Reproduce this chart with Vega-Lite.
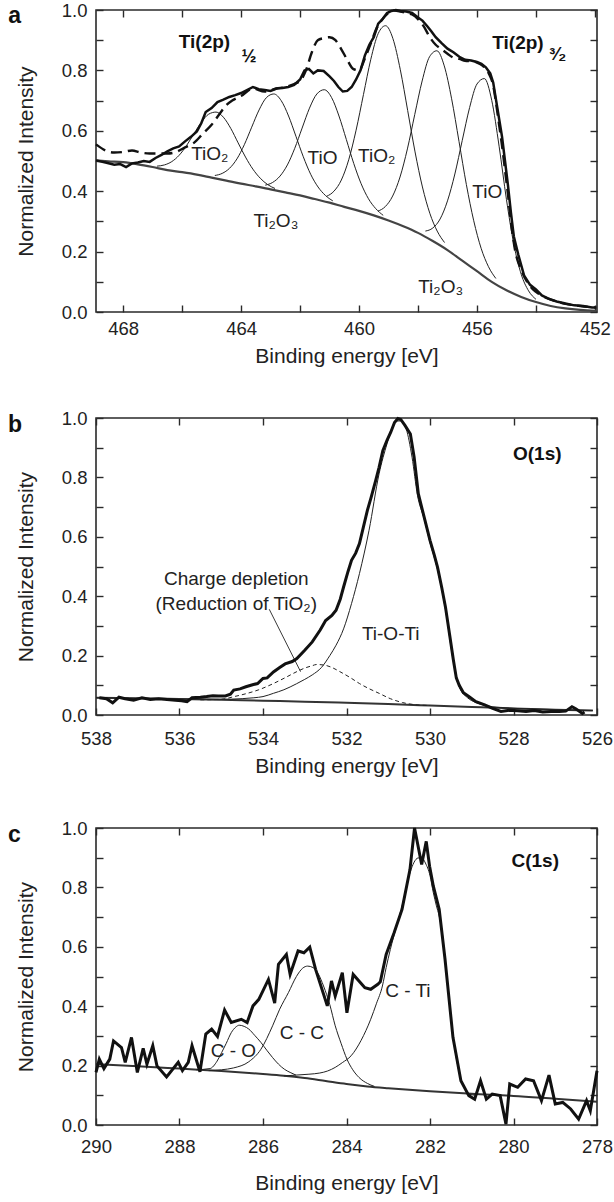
{
"$schema":"https://vega.github.io/schema/vega-lite/v6.json",
"padding":{"left":7,"right":0,"top":0,"bottom":0},
"spacing":40,
"config":{
"view":{"stroke":"#2a2a2a","strokeWidth":1.6},
"font":"Liberation Sans",
"axis":{"grid":false,"domain":false,"labelFont":"Liberation Sans","titleFont":"Liberation Sans","labelFontSize":18.5,"titleFontSize":21,"titleFontWeight":"normal","labelColor":"#222","titleColor":"#222","tickColor":"#2a2a2a","tickWidth":1.4,"tickSize":-7,"labelFlush":false,"labelOverlap":false},
"text":{"font":"Liberation Sans","fontSize":19,"color":"#222"}
},
"vconcat":[
{
"width":501,"height":302,
"data":{"values":[
{"s":"e","E":468.92,"I":0.502},{"s":"e","E":468.6,"I":0.495},{"s":"e","E":468.3,"I":0.488},{"s":"e","E":468.1,"I":0.49},{"s":"e","E":467.9,"I":0.48},{"s":"e","E":467.7,"I":0.492},{"s":"e","E":467.5,"I":0.495},{"s":"e","E":467.3,"I":0.5},{"s":"e","E":467.1,"I":0.497},{"s":"e","E":466.9,"I":0.51},{"s":"e","E":466.7,"I":0.52},{"s":"e","E":466.5,"I":0.532},{"s":"e","E":466.3,"I":0.542},{"s":"e","E":466.1,"I":0.548},{"s":"e","E":465.9,"I":0.565},{"s":"e","E":465.7,"I":0.58},{"s":"e","E":465.5,"I":0.598},{"s":"e","E":465.35,"I":0.625},{"s":"e","E":465.2,"I":0.662},{"s":"e","E":465.0,"I":0.675},{"s":"e","E":464.8,"I":0.695},{"s":"e","E":464.6,"I":0.703},{"s":"e","E":464.4,"I":0.712},{"s":"e","E":464.2,"I":0.718},{"s":"e","E":464.0,"I":0.725},{"s":"e","E":463.8,"I":0.735},{"s":"e","E":463.6,"I":0.745},{"s":"e","E":463.4,"I":0.738},{"s":"e","E":463.2,"I":0.735},{"s":"e","E":463.0,"I":0.732},{"s":"e","E":462.8,"I":0.74},{"s":"e","E":462.6,"I":0.742},{"s":"e","E":462.4,"I":0.745},{"s":"e","E":462.2,"I":0.752},{"s":"e","E":462.0,"I":0.77},{"s":"e","E":461.85,"I":0.8},{"s":"e","E":461.7,"I":0.805},{"s":"e","E":461.55,"I":0.79},{"s":"e","E":461.4,"I":0.8},{"s":"e","E":461.2,"I":0.798},{"s":"e","E":461.0,"I":0.78},{"s":"e","E":460.85,"I":0.765},{"s":"e","E":460.7,"I":0.745},{"s":"e","E":460.55,"I":0.73},{"s":"e","E":460.4,"I":0.732},{"s":"e","E":460.25,"I":0.745},{"s":"e","E":460.1,"I":0.77},{"s":"e","E":459.95,"I":0.8},{"s":"e","E":459.8,"I":0.85},{"s":"e","E":459.65,"I":0.885},{"s":"e","E":459.5,"I":0.91},{"s":"e","E":459.35,"I":0.955},{"s":"e","E":459.2,"I":0.97},{"s":"e","E":459.05,"I":0.99},{"s":"e","E":458.9,"I":0.997},{"s":"e","E":458.75,"I":1.0},{"s":"e","E":458.6,"I":0.997},{"s":"e","E":458.4,"I":0.995},{"s":"e","E":458.2,"I":0.99},{"s":"e","E":458.0,"I":0.975},{"s":"e","E":457.85,"I":0.965},{"s":"e","E":457.7,"I":0.948},{"s":"e","E":457.55,"I":0.93},{"s":"e","E":457.4,"I":0.91},{"s":"e","E":457.2,"I":0.89},{"s":"e","E":457.0,"I":0.872},{"s":"e","E":456.8,"I":0.86},{"s":"e","E":456.6,"I":0.845},{"s":"e","E":456.4,"I":0.835},{"s":"e","E":456.2,"I":0.833},{"s":"e","E":456.0,"I":0.828},{"s":"e","E":455.85,"I":0.822},{"s":"e","E":455.7,"I":0.81},{"s":"e","E":455.55,"I":0.79},{"s":"e","E":455.45,"I":0.76},{"s":"e","E":455.35,"I":0.7},{"s":"e","E":455.25,"I":0.64},{"s":"e","E":455.15,"I":0.58},{"s":"e","E":455.05,"I":0.5},{"s":"e","E":454.95,"I":0.42},{"s":"e","E":454.85,"I":0.33},{"s":"e","E":454.75,"I":0.25},{"s":"e","E":454.6,"I":0.19},{"s":"e","E":454.4,"I":0.12},{"s":"e","E":454.2,"I":0.09},{"s":"e","E":454.0,"I":0.075},{"s":"e","E":453.8,"I":0.055},{"s":"e","E":453.6,"I":0.045},{"s":"e","E":453.3,"I":0.035},{"s":"e","E":453.0,"I":0.028},{"s":"e","E":452.7,"I":0.022},{"s":"e","E":452.4,"I":0.02},{"s":"e","E":452.1,"I":0.015},{"s":"e","E":451.95,"I":0.015},
{"s":"d","E":468.92,"I":0.555},{"s":"d","E":468.6,"I":0.535},{"s":"d","E":468.3,"I":0.528},{"s":"d","E":468.0,"I":0.53},{"s":"d","E":467.7,"I":0.535},{"s":"d","E":467.4,"I":0.528},{"s":"d","E":467.1,"I":0.525},{"s":"d","E":466.8,"I":0.525},{"s":"d","E":466.5,"I":0.525},{"s":"d","E":466.2,"I":0.53},{"s":"d","E":465.9,"I":0.545},{"s":"d","E":465.6,"I":0.56},{"s":"d","E":465.3,"I":0.59},{"s":"d","E":465.0,"I":0.62},{"s":"d","E":464.7,"I":0.66},{"s":"d","E":464.5,"I":0.685},{"s":"d","E":464.3,"I":0.7},{"s":"d","E":464.0,"I":0.715},{"s":"d","E":463.6,"I":0.74},{"s":"d","E":463.2,"I":0.73},{"s":"d","E":462.8,"I":0.74},{"s":"d","E":462.5,"I":0.745},{"s":"d","E":462.2,"I":0.755},{"s":"d","E":462.0,"I":0.765},{"s":"d","E":461.8,"I":0.8},{"s":"d","E":461.6,"I":0.86},{"s":"d","E":461.4,"I":0.9},{"s":"d","E":461.2,"I":0.907},{"s":"d","E":461.0,"I":0.91},{"s":"d","E":460.8,"I":0.9},{"s":"d","E":460.6,"I":0.87},{"s":"d","E":460.4,"I":0.835},{"s":"d","E":460.2,"I":0.805},{"s":"d","E":460.0,"I":0.8},{"s":"d","E":459.8,"I":0.84},{"s":"d","E":459.6,"I":0.89},{"s":"d","E":459.4,"I":0.94},{"s":"d","E":459.2,"I":0.97},{"s":"d","E":459.0,"I":0.99},{"s":"d","E":458.8,"I":0.998},{"s":"d","E":458.6,"I":0.995},{"s":"d","E":458.4,"I":0.99},{"s":"d","E":458.2,"I":0.985},{"s":"d","E":458.0,"I":0.97},{"s":"d","E":457.8,"I":0.945},{"s":"d","E":457.6,"I":0.91},{"s":"d","E":457.4,"I":0.885},{"s":"d","E":457.2,"I":0.87},{"s":"d","E":457.0,"I":0.855},{"s":"d","E":456.8,"I":0.842},{"s":"d","E":456.6,"I":0.838},{"s":"d","E":456.4,"I":0.832},{"s":"d","E":456.2,"I":0.83},{"s":"d","E":456.0,"I":0.826},{"s":"d","E":455.8,"I":0.815},{"s":"d","E":455.6,"I":0.79},{"s":"d","E":455.45,"I":0.75},{"s":"d","E":455.35,"I":0.69},{"s":"d","E":455.25,"I":0.62},{"s":"d","E":455.15,"I":0.55},{"s":"d","E":455.05,"I":0.47},{"s":"d","E":454.95,"I":0.39},{"s":"d","E":454.85,"I":0.3},{"s":"d","E":454.7,"I":0.2},{"s":"d","E":454.5,"I":0.14},{"s":"d","E":454.3,"I":0.1},{"s":"d","E":454.1,"I":0.075},{"s":"d","E":453.9,"I":0.06},{"s":"d","E":453.6,"I":0.045},{"s":"d","E":453.3,"I":0.035},{"s":"d","E":453.0,"I":0.027},{"s":"d","E":452.5,"I":0.02},{"s":"d","E":452.0,"I":0.015},
{"s":"b","E":468.92,"I":0.502},{"s":"b","E":468.5,"I":0.499},{"s":"b","E":468.0,"I":0.496},{"s":"b","E":467.5,"I":0.489},{"s":"b","E":467.0,"I":0.48},{"s":"b","E":466.5,"I":0.47},{"s":"b","E":466.0,"I":0.463},{"s":"b","E":465.5,"I":0.455},{"s":"b","E":465.0,"I":0.445},{"s":"b","E":464.5,"I":0.435},{"s":"b","E":464.0,"I":0.425},{"s":"b","E":463.5,"I":0.416},{"s":"b","E":463.0,"I":0.406},{"s":"b","E":462.5,"I":0.396},{"s":"b","E":462.0,"I":0.386},{"s":"b","E":461.5,"I":0.374},{"s":"b","E":461.0,"I":0.362},{"s":"b","E":460.5,"I":0.348},{"s":"b","E":460.0,"I":0.335},{"s":"b","E":459.5,"I":0.32},{"s":"b","E":459.0,"I":0.303},{"s":"b","E":458.5,"I":0.284},{"s":"b","E":458.0,"I":0.262},{"s":"b","E":457.5,"I":0.235},{"s":"b","E":457.0,"I":0.205},{"s":"b","E":456.5,"I":0.17},{"s":"b","E":456.0,"I":0.135},{"s":"b","E":455.5,"I":0.1},{"s":"b","E":455.0,"I":0.072},{"s":"b","E":454.5,"I":0.05},{"s":"b","E":454.0,"I":0.033},{"s":"b","E":453.5,"I":0.02},{"s":"b","E":453.0,"I":0.012},{"s":"b","E":452.5,"I":0.007},{"s":"b","E":451.95,"I":0.004},
{"s":"p1","E":466.85,"I":0.483},{"s":"p1","E":466.6,"I":0.487},{"s":"p1","E":466.35,"I":0.498},{"s":"p1","E":466.1,"I":0.519},{"s":"p1","E":465.85,"I":0.551},{"s":"p1","E":465.6,"I":0.59},{"s":"p1","E":465.35,"I":0.628},{"s":"p1","E":465.1,"I":0.655},{"s":"p1","E":464.85,"I":0.662},{"s":"p1","E":464.6,"I":0.645},{"s":"p1","E":464.35,"I":0.608},{"s":"p1","E":464.1,"I":0.56},{"s":"p1","E":463.85,"I":0.513},{"s":"p1","E":463.6,"I":0.473},{"s":"p1","E":463.35,"I":0.443},{"s":"p1","E":463.1,"I":0.422},{"s":"p1","E":462.85,"I":0.409},
{"s":"p2","E":464.89,"I":0.452},{"s":"p2","E":464.64,"I":0.459},{"s":"p2","E":464.39,"I":0.476},{"s":"p2","E":464.14,"I":0.507},{"s":"p2","E":463.89,"I":0.554},{"s":"p2","E":463.64,"I":0.612},{"s":"p2","E":463.39,"I":0.669},{"s":"p2","E":463.14,"I":0.71},{"s":"p2","E":462.89,"I":0.722},{"s":"p2","E":462.64,"I":0.7},{"s":"p2","E":462.39,"I":0.649},{"s":"p2","E":462.14,"I":0.582},{"s":"p2","E":461.89,"I":0.514},{"s":"p2","E":461.64,"I":0.456},{"s":"p2","E":461.39,"I":0.414},{"s":"p2","E":461.14,"I":0.386},{"s":"p2","E":460.89,"I":0.368},
{"s":"p3","E":463.18,"I":0.42},{"s":"p3","E":462.93,"I":0.429},{"s":"p3","E":462.68,"I":0.45},{"s":"p3","E":462.43,"I":0.487},{"s":"p3","E":462.18,"I":0.542},{"s":"p3","E":461.93,"I":0.609},{"s":"p3","E":461.68,"I":0.675},{"s":"p3","E":461.43,"I":0.722},{"s":"p3","E":461.18,"I":0.736},{"s":"p3","E":460.93,"I":0.71},{"s":"p3","E":460.68,"I":0.649},{"s":"p3","E":460.43,"I":0.571},{"s":"p3","E":460.18,"I":0.492},{"s":"p3","E":459.93,"I":0.425},{"s":"p3","E":459.68,"I":0.375},{"s":"p3","E":459.43,"I":0.342},{"s":"p3","E":459.18,"I":0.32},
{"s":"p4","E":461.1,"I":0.383},{"s":"p4","E":460.85,"I":0.4},{"s":"p4","E":460.6,"I":0.437},{"s":"p4","E":460.35,"I":0.504},{"s":"p4","E":460.1,"I":0.602},{"s":"p4","E":459.85,"I":0.72},{"s":"p4","E":459.6,"I":0.837},{"s":"p4","E":459.35,"I":0.922},{"s":"p4","E":459.1,"I":0.948},{"s":"p4","E":458.85,"I":0.905},{"s":"p4","E":458.6,"I":0.802},{"s":"p4","E":458.35,"I":0.667},{"s":"p4","E":458.1,"I":0.53},{"s":"p4","E":457.85,"I":0.414},{"s":"p4","E":457.6,"I":0.327},{"s":"p4","E":457.35,"I":0.268},{"s":"p4","E":457.1,"I":0.23},
{"s":"p5","E":459.36,"I":0.334},{"s":"p5","E":459.11,"I":0.349},{"s":"p5","E":458.86,"I":0.384},{"s":"p5","E":458.61,"I":0.447},{"s":"p5","E":458.36,"I":0.54},{"s":"p5","E":458.11,"I":0.654},{"s":"p5","E":457.86,"I":0.765},{"s":"p5","E":457.61,"I":0.845},{"s":"p5","E":457.36,"I":0.865},{"s":"p5","E":457.11,"I":0.815},{"s":"p5","E":456.86,"I":0.706},{"s":"p5","E":456.61,"I":0.565},{"s":"p5","E":456.36,"I":0.422},{"s":"p5","E":456.11,"I":0.302},{"s":"p5","E":455.86,"I":0.211},{"s":"p5","E":455.61,"I":0.15},{"s":"p5","E":455.36,"I":0.111},
{"s":"p6","E":457.75,"I":0.268},{"s":"p6","E":457.5,"I":0.278},{"s":"p6","E":457.25,"I":0.308},{"s":"p6","E":457.0,"I":0.368},{"s":"p6","E":456.75,"I":0.457},{"s":"p6","E":456.5,"I":0.568},{"s":"p6","E":456.25,"I":0.677},{"s":"p6","E":456.0,"I":0.755},{"s":"p6","E":455.75,"I":0.773},{"s":"p6","E":455.5,"I":0.701},{"s":"p6","E":455.25,"I":0.549},{"s":"p6","E":455.0,"I":0.372},{"s":"p6","E":454.75,"I":0.224},{"s":"p6","E":454.5,"I":0.125},{"s":"p6","E":454.25,"I":0.07},{"s":"p6","E":454.0,"I":0.042}
]},
"layer":[
{"transform":[{"filter":"datum.s=='b'"}],"mark":{"type":"line","stroke":"#444","strokeWidth":2.2,"interpolate":"monotone"},
"encoding":{
"x":{"field":"E","type":"quantitative","scale":{"domain":[451.93,468.92],"reverse":true,"nice":false,"zero":false},"axis":{"orient":"bottom","values":[468,466,464,462,460,458,456,454,452],"labelExpr":"datum.value % 4 == 0 ? datum.label : ''","format":"d","labelPadding":14,"title":"Binding energy [eV]","titlePadding":8}},
"y":{"field":"I","type":"quantitative","scale":{"domain":[0,1],"nice":false},"axis":{"orient":"left","values":[0,0.1,0.2,0.3,0.4,0.5,0.6,0.7,0.8,0.9,1],"labelExpr":"round(datum.value*10) % 2 == 0 ? datum.label : ''","format":".1f","labelPadding":16,"title":"Normalized Intensity","titlePadding":25}}}},
{"transform":[{"filter":"indexof(datum.s,'p')==0"}],"mark":{"type":"line","stroke":"#222","strokeWidth":1,"interpolate":"monotone"},
"encoding":{"x":{"field":"E","type":"quantitative","scale":{"domain":[451.93,468.92],"reverse":true,"nice":false,"zero":false},"axis":null},"y":{"field":"I","type":"quantitative","scale":{"domain":[0,1],"nice":false},"axis":null},"detail":{"field":"s"}}},
{"transform":[{"filter":"datum.s=='d'"}],"mark":{"type":"line","stroke":"#111","strokeWidth":2.4,"strokeDash":[11,6],"interpolate":"monotone"},
"encoding":{"x":{"field":"E","type":"quantitative","scale":{"domain":[451.93,468.92],"reverse":true,"nice":false,"zero":false},"axis":null},"y":{"field":"I","type":"quantitative","scale":{"domain":[0,1],"nice":false},"axis":null}}},
{"transform":[{"filter":"datum.s=='e'"}],"mark":{"type":"line","stroke":"#111","strokeWidth":2.5},
"encoding":{"x":{"field":"E","type":"quantitative","scale":{"domain":[451.93,468.92],"reverse":true,"nice":false,"zero":false},"axis":null},"y":{"field":"I","type":"quantitative","scale":{"domain":[0,1],"nice":false},"axis":null}}},
{"transform":[{"filter":"datum.s=='b'"}],"mark":{"type":"line","opacity":0},
"encoding":{
"x":{"field":"E","type":"quantitative","scale":{"domain":[451.93,468.92],"reverse":true,"nice":false,"zero":false},"axis":{"orient":"top","values":[468,466,464,462,460,458,456,454,452],"labels":false,"title":null,"minExtent":0}},
"y":{"field":"I","type":"quantitative","scale":{"domain":[0,1],"nice":false},"axis":{"orient":"right","values":[0,0.1,0.2,0.3,0.4,0.5,0.6,0.7,0.8,0.9,1],"labels":false,"title":null,"minExtent":0}}}},
{"data":{"values":[{"E":465.06,"I":0.522,"t":"TiO₂"},{"E":461.24,"I":0.511,"t":"TiO"},{"E":459.4,"I":0.516,"t":"TiO₂"},{"E":462.82,"I":0.302,"t":"Ti₂O₃"},{"E":455.65,"I":0.396,"t":"TiO"},{"E":457.23,"I":0.082,"t":"Ti₂O₃"}]},
"mark":{"type":"text","align":"center","baseline":"middle","fontSize":19},
"encoding":{"x":{"field":"E","type":"quantitative","scale":{"domain":[451.93,468.92],"reverse":true,"nice":false,"zero":false},"axis":null},"y":{"field":"I","type":"quantitative","scale":{"domain":[0,1],"nice":false},"axis":null},"text":{"field":"t"}}},
{"data":{"values":[{"E":465.24,"I":0.895,"t":"Ti(2p)"},{"E":454.61,"I":0.89,"t":"Ti(2p)"}]},
"mark":{"type":"text","align":"center","baseline":"middle","fontSize":19,"fontWeight":"bold","color":"#111"},
"encoding":{"x":{"field":"E","type":"quantitative","scale":{"domain":[451.93,468.92],"reverse":true,"nice":false,"zero":false},"axis":null},"y":{"field":"I","type":"quantitative","scale":{"domain":[0,1],"nice":false},"axis":null},"text":{"field":"t"}}},
{"data":{"values":[{"E":463.73,"I":0.846,"t":"½"},{"E":453.26,"I":0.852,"t":"³⁄₂"}]},
"mark":{"type":"text","align":"center","baseline":"middle","fontSize":18,"fontWeight":"bold","color":"#111"},
"encoding":{"x":{"field":"E","type":"quantitative","scale":{"domain":[451.93,468.92],"reverse":true,"nice":false,"zero":false},"axis":null},"y":{"field":"I","type":"quantitative","scale":{"domain":[0,1],"nice":false},"axis":null},"text":{"field":"t"}}},
{"data":{"values":[{"E":471.9,"I":0.958,"t":"a"}]},
"mark":{"type":"text","align":"left","baseline":"alphabetic","fontSize":23,"fontWeight":"bold","color":"#111"},
"encoding":{"x":{"field":"E","type":"quantitative","scale":{"domain":[451.93,468.92],"reverse":true,"nice":false,"zero":false},"axis":null},"y":{"field":"I","type":"quantitative","scale":{"domain":[0,1],"nice":false},"axis":null},"text":{"field":"t"}}}
],
"resolve":{"axis":{"x":"independent","y":"independent"}}
},
{
"width":501,"height":297,
"data":{"values":[
{"s":"e","E":537.92,"I":0.058},{"s":"e","E":537.75,"I":0.055},{"s":"e","E":537.6,"I":0.041},{"s":"e","E":537.45,"I":0.06},{"s":"e","E":537.3,"I":0.055},{"s":"e","E":537.1,"I":0.05},{"s":"e","E":536.9,"I":0.058},{"s":"e","E":536.7,"I":0.052},{"s":"e","E":536.5,"I":0.055},{"s":"e","E":536.3,"I":0.052},{"s":"e","E":536.1,"I":0.05},{"s":"e","E":535.95,"I":0.048},{"s":"e","E":535.82,"I":0.045},{"s":"e","E":535.7,"I":0.058},{"s":"e","E":535.5,"I":0.06},{"s":"e","E":535.35,"I":0.062},{"s":"e","E":535.2,"I":0.065},{"s":"e","E":535.07,"I":0.064},{"s":"e","E":534.9,"I":0.064},{"s":"e","E":534.78,"I":0.07},{"s":"e","E":534.7,"I":0.084},{"s":"e","E":534.55,"I":0.088},{"s":"e","E":534.41,"I":0.095},{"s":"e","E":534.25,"I":0.102},{"s":"e","E":534.13,"I":0.106},{"s":"e","E":534.0,"I":0.123},{"s":"e","E":533.9,"I":0.125},{"s":"e","E":533.75,"I":0.145},{"s":"e","E":533.6,"I":0.16},{"s":"e","E":533.47,"I":0.172},{"s":"e","E":533.3,"I":0.18},{"s":"e","E":533.19,"I":0.19},{"s":"e","E":533.0,"I":0.218},{"s":"e","E":532.82,"I":0.246},{"s":"e","E":532.63,"I":0.286},{"s":"e","E":532.5,"I":0.318},{"s":"e","E":532.35,"I":0.335},{"s":"e","E":532.25,"I":0.353},{"s":"e","E":532.15,"I":0.39},{"s":"e","E":532.07,"I":0.431},{"s":"e","E":531.97,"I":0.48},{"s":"e","E":531.88,"I":0.521},{"s":"e","E":531.78,"I":0.545},{"s":"e","E":531.69,"I":0.577},{"s":"e","E":531.6,"I":0.63},{"s":"e","E":531.5,"I":0.689},{"s":"e","E":531.41,"I":0.733},{"s":"e","E":531.3,"I":0.79},{"s":"e","E":531.22,"I":0.834},{"s":"e","E":531.13,"I":0.89},{"s":"e","E":531.03,"I":0.925},{"s":"e","E":530.94,"I":0.952},{"s":"e","E":530.85,"I":0.985},{"s":"e","E":530.77,"I":0.998},{"s":"e","E":530.7,"I":0.995},{"s":"e","E":530.6,"I":0.975},{"s":"e","E":530.47,"I":0.946},{"s":"e","E":530.38,"I":0.868},{"s":"e","E":530.28,"I":0.745},{"s":"e","E":530.14,"I":0.666},{"s":"e","E":530.0,"I":0.588},{"s":"e","E":529.9,"I":0.54},{"s":"e","E":529.82,"I":0.498},{"s":"e","E":529.72,"I":0.43},{"s":"e","E":529.63,"I":0.364},{"s":"e","E":529.53,"I":0.27},{"s":"e","E":529.44,"I":0.185},{"s":"e","E":529.37,"I":0.125},{"s":"e","E":529.3,"I":0.1},{"s":"e","E":529.2,"I":0.075},{"s":"e","E":529.07,"I":0.062},{"s":"e","E":528.9,"I":0.045},{"s":"e","E":528.69,"I":0.034},{"s":"e","E":528.5,"I":0.022},{"s":"e","E":528.3,"I":0.012},{"s":"e","E":528.1,"I":0.016},{"s":"e","E":527.9,"I":0.014},{"s":"e","E":527.7,"I":0.012},{"s":"e","E":527.5,"I":0.015},{"s":"e","E":527.3,"I":0.01},{"s":"e","E":527.1,"I":0.012},{"s":"e","E":526.9,"I":0.012},{"s":"e","E":526.75,"I":0.013},{"s":"e","E":526.6,"I":0.028},{"s":"e","E":526.5,"I":0.02},{"s":"e","E":526.35,"I":0.005},{"s":"e","E":526.3,"I":0.01},
{"s":"b","E":538.0,"I":0.058},{"s":"b","E":537.0,"I":0.056},{"s":"b","E":536.0,"I":0.054},{"s":"b","E":535.0,"I":0.051},{"s":"b","E":534.0,"I":0.048},{"s":"b","E":533.0,"I":0.045},{"s":"b","E":532.0,"I":0.041},{"s":"b","E":531.0,"I":0.037},{"s":"b","E":530.0,"I":0.032},{"s":"b","E":529.0,"I":0.027},{"s":"b","E":528.0,"I":0.022},{"s":"b","E":527.0,"I":0.018},{"s":"b","E":526.1,"I":0.015},
{"s":"f","E":538.0,"I":0.058},{"s":"f","E":536.0,"I":0.054},{"s":"f","E":535.0,"I":0.053},{"s":"f","E":534.5,"I":0.055},{"s":"f","E":534.22,"I":0.058},{"s":"f","E":534.0,"I":0.062},{"s":"f","E":533.75,"I":0.073},{"s":"f","E":533.5,"I":0.085},{"s":"f","E":533.2,"I":0.105},{"s":"f","E":533.0,"I":0.12},{"s":"f","E":532.82,"I":0.135},{"s":"f","E":532.6,"I":0.16},{"s":"f","E":532.4,"I":0.2},{"s":"f","E":532.25,"I":0.235},{"s":"f","E":532.07,"I":0.29},{"s":"f","E":531.88,"I":0.375},{"s":"f","E":531.69,"I":0.476},{"s":"f","E":531.46,"I":0.622},{"s":"f","E":531.22,"I":0.812},{"s":"f","E":531.03,"I":0.913},{"s":"f","E":530.9,"I":0.97},{"s":"f","E":530.8,"I":0.99},{"s":"f","E":530.7,"I":0.99},{"s":"f","E":530.57,"I":0.963},{"s":"f","E":530.43,"I":0.868},{"s":"f","E":530.3,"I":0.74},{"s":"f","E":530.14,"I":0.66},{"s":"f","E":530.0,"I":0.58},{"s":"f","E":529.82,"I":0.49},{"s":"f","E":529.63,"I":0.355},{"s":"f","E":529.44,"I":0.18},{"s":"f","E":529.3,"I":0.095},{"s":"f","E":529.1,"I":0.058},{"s":"f","E":528.9,"I":0.042},{"s":"f","E":528.6,"I":0.03},{"s":"f","E":528.2,"I":0.024},{"s":"f","E":527.5,"I":0.02},{"s":"f","E":526.1,"I":0.015},
{"s":"d","E":535.5,"I":0.051},{"s":"d","E":535.0,"I":0.053},{"s":"d","E":534.69,"I":0.062},{"s":"d","E":534.4,"I":0.072},{"s":"d","E":534.1,"I":0.085},{"s":"d","E":533.75,"I":0.106},{"s":"d","E":533.45,"I":0.127},{"s":"d","E":533.19,"I":0.146},{"s":"d","E":533.0,"I":0.158},{"s":"d","E":532.82,"I":0.166},{"s":"d","E":532.72,"I":0.17},{"s":"d","E":532.53,"I":0.168},{"s":"d","E":532.35,"I":0.16},{"s":"d","E":532.16,"I":0.146},{"s":"d","E":531.9,"I":0.125},{"s":"d","E":531.69,"I":0.106},{"s":"d","E":531.45,"I":0.088},{"s":"d","E":531.22,"I":0.073},{"s":"d","E":530.95,"I":0.055},{"s":"d","E":530.66,"I":0.042},{"s":"d","E":530.38,"I":0.035},{"s":"d","E":530.0,"I":0.032},
{"s":"l","E":533.85,"I":0.356},{"s":"l","E":533.1,"I":0.146}
]},
"layer":[
{"transform":[{"filter":"datum.s=='b'"}],"mark":{"type":"line","stroke":"#333","strokeWidth":2,"interpolate":"monotone"},
"encoding":{
"x":{"field":"E","type":"quantitative","scale":{"domain":[526,538],"reverse":true,"nice":false,"zero":false},"axis":{"orient":"bottom","values":[538,536,534,532,530,528,526],"format":"d","labelPadding":21,"title":"Binding energy [eV]","titlePadding":8}},
"y":{"field":"I","type":"quantitative","scale":{"domain":[0,1],"nice":false},"axis":{"orient":"left","values":[0,0.1,0.2,0.3,0.4,0.5,0.6,0.7,0.8,0.9,1],"labelExpr":"round(datum.value*10) % 2 == 0 ? datum.label : ''","format":".1f","labelPadding":16,"title":"Normalized Intensity","titlePadding":25}}}},
{"transform":[{"filter":"datum.s=='f'"}],"mark":{"type":"line","stroke":"#222","strokeWidth":1,"interpolate":"monotone"},
"encoding":{"x":{"field":"E","type":"quantitative","scale":{"domain":[526,538],"reverse":true,"nice":false,"zero":false},"axis":null},"y":{"field":"I","type":"quantitative","scale":{"domain":[0,1],"nice":false},"axis":null}}},
{"transform":[{"filter":"datum.s=='d'"}],"mark":{"type":"line","stroke":"#222","strokeWidth":1,"strokeDash":[4,3],"interpolate":"monotone"},
"encoding":{"x":{"field":"E","type":"quantitative","scale":{"domain":[526,538],"reverse":true,"nice":false,"zero":false},"axis":null},"y":{"field":"I","type":"quantitative","scale":{"domain":[0,1],"nice":false},"axis":null}}},
{"transform":[{"filter":"datum.s=='l'"}],"mark":{"type":"line","stroke":"#222","strokeWidth":0.9},
"encoding":{"x":{"field":"E","type":"quantitative","scale":{"domain":[526,538],"reverse":true,"nice":false,"zero":false},"axis":null},"y":{"field":"I","type":"quantitative","scale":{"domain":[0,1],"nice":false},"axis":null}}},
{"transform":[{"filter":"datum.s=='e'"}],"mark":{"type":"line","stroke":"#111","strokeWidth":3},
"encoding":{"x":{"field":"E","type":"quantitative","scale":{"domain":[526,538],"reverse":true,"nice":false,"zero":false},"axis":null},"y":{"field":"I","type":"quantitative","scale":{"domain":[0,1],"nice":false},"axis":null}}},
{"transform":[{"filter":"datum.s=='b'"}],"mark":{"type":"line","opacity":0},
"encoding":{
"x":{"field":"E","type":"quantitative","scale":{"domain":[526,538],"reverse":true,"nice":false,"zero":false},"axis":{"orient":"top","values":[538,536,534,532,530,528,526],"labels":false,"title":null,"minExtent":0}},
"y":{"field":"I","type":"quantitative","scale":{"domain":[0,1],"nice":false},"axis":{"orient":"right","values":[0,0.1,0.2,0.3,0.4,0.5,0.6,0.7,0.8,0.9,1],"labels":false,"title":null,"minExtent":0}}}},
{"data":{"values":[{"E":534.64,"I":0.459,"t":"Charge depletion"},{"E":534.64,"I":0.375,"t":"(Reduction of TiO₂)"},{"E":530.94,"I":0.274,"t":"Ti-O-Ti"}]},
"mark":{"type":"text","align":"center","baseline":"middle","fontSize":19},
"encoding":{"x":{"field":"E","type":"quantitative","scale":{"domain":[526,538],"reverse":true,"nice":false,"zero":false},"axis":null},"y":{"field":"I","type":"quantitative","scale":{"domain":[0,1],"nice":false},"axis":null},"text":{"field":"t"}}},
{"data":{"values":[{"E":527.43,"I":0.879,"t":"O(1s)"}]},
"mark":{"type":"text","align":"center","baseline":"middle","fontSize":19,"fontWeight":"bold","color":"#111"},
"encoding":{"x":{"field":"E","type":"quantitative","scale":{"domain":[526,538],"reverse":true,"nice":false,"zero":false},"axis":null},"y":{"field":"I","type":"quantitative","scale":{"domain":[0,1],"nice":false},"axis":null},"text":{"field":"t"}}},
{"data":{"values":[{"E":540.11,"I":0.954,"t":"b"}]},
"mark":{"type":"text","align":"left","baseline":"alphabetic","fontSize":23,"fontWeight":"bold","color":"#111"},
"encoding":{"x":{"field":"E","type":"quantitative","scale":{"domain":[526,538],"reverse":true,"nice":false,"zero":false},"axis":null},"y":{"field":"I","type":"quantitative","scale":{"domain":[0,1],"nice":false},"axis":null},"text":{"field":"t"}}}
],
"resolve":{"axis":{"x":"independent","y":"independent"}}
},
{
"width":501,"height":297,
"data":{"values":[
{"s":"e","E":290.0,"I":0.177},{"s":"e","E":289.92,"I":0.222},{"s":"e","E":289.81,"I":0.19},{"s":"e","E":289.67,"I":0.222},{"s":"e","E":289.58,"I":0.283},{"s":"e","E":289.39,"I":0.261},{"s":"e","E":289.3,"I":0.211},{"s":"e","E":289.15,"I":0.295},{"s":"e","E":289.01,"I":0.177},{"s":"e","E":288.87,"I":0.258},{"s":"e","E":288.78,"I":0.205},{"s":"e","E":288.64,"I":0.267},{"s":"e","E":288.54,"I":0.199},{"s":"e","E":288.31,"I":0.162},{"s":"e","E":288.03,"I":0.211},{"s":"e","E":287.93,"I":0.183},{"s":"e","E":287.79,"I":0.211},{"s":"e","E":287.7,"I":0.267},{"s":"e","E":287.51,"I":0.179},{"s":"e","E":287.37,"I":0.306},{"s":"e","E":287.23,"I":0.323},{"s":"e","E":287.09,"I":0.298},{"s":"e","E":286.92,"I":0.387},{"s":"e","E":286.76,"I":0.345},{"s":"e","E":286.52,"I":0.356},{"s":"e","E":286.38,"I":0.345},{"s":"e","E":286.24,"I":0.401},{"s":"e","E":286.1,"I":0.423},{"s":"e","E":285.87,"I":0.49},{"s":"e","E":285.72,"I":0.41},{"s":"e","E":285.63,"I":0.541},{"s":"e","E":285.44,"I":0.574},{"s":"e","E":285.35,"I":0.507},{"s":"e","E":285.16,"I":0.586},{"s":"e","E":285.02,"I":0.58},{"s":"e","E":284.88,"I":0.599},{"s":"e","E":284.74,"I":0.524},{"s":"e","E":284.46,"I":0.401},{"s":"e","E":284.36,"I":0.485},{"s":"e","E":284.27,"I":0.434},{"s":"e","E":284.1,"I":0.513},{"s":"e","E":283.99,"I":0.378},{"s":"e","E":283.84,"I":0.507},{"s":"e","E":283.56,"I":0.462},{"s":"e","E":283.42,"I":0.457},{"s":"e","E":283.25,"I":0.474},{"s":"e","E":283.19,"I":0.482},{"s":"e","E":283.05,"I":0.574},{"s":"e","E":282.86,"I":0.647},{"s":"e","E":282.67,"I":0.726},{"s":"e","E":282.48,"I":0.86},{"s":"e","E":282.37,"I":1.0},{"s":"e","E":282.2,"I":0.877},{"s":"e","E":282.09,"I":0.955},{"s":"e","E":282.01,"I":0.871},{"s":"e","E":281.92,"I":0.804},{"s":"e","E":281.78,"I":0.726},{"s":"e","E":281.64,"I":0.558},{"s":"e","E":281.45,"I":0.295},{"s":"e","E":281.26,"I":0.149},{"s":"e","E":281.07,"I":0.099},{"s":"e","E":280.93,"I":0.087},{"s":"e","E":280.79,"I":0.149},{"s":"e","E":280.65,"I":0.087},{"s":"e","E":280.51,"I":0.104},{"s":"e","E":280.32,"I":0.099},{"s":"e","E":280.18,"I":0.003},{"s":"e","E":280.09,"I":0.138},{"s":"e","E":279.9,"I":0.127},{"s":"e","E":279.71,"I":0.155},{"s":"e","E":279.52,"I":0.149},{"s":"e","E":279.33,"I":0.082},{"s":"e","E":279.15,"I":0.168},{"s":"e","E":279.0,"I":0.071},{"s":"e","E":278.82,"I":0.076},{"s":"e","E":278.63,"I":0.054},{"s":"e","E":278.44,"I":0.02},{"s":"e","E":278.25,"I":0.082},{"s":"e","E":278.16,"I":0.048},{"s":"e","E":278.0,"I":0.183},
{"s":"b","E":290.0,"I":0.205},{"s":"b","E":289.0,"I":0.198},{"s":"b","E":288.0,"I":0.19},{"s":"b","E":287.0,"I":0.182},{"s":"b","E":286.0,"I":0.172},{"s":"b","E":285.5,"I":0.166},{"s":"b","E":285.0,"I":0.158},{"s":"b","E":284.5,"I":0.148},{"s":"b","E":284.0,"I":0.138},{"s":"b","E":283.5,"I":0.13},{"s":"b","E":283.0,"I":0.124},{"s":"b","E":282.0,"I":0.114},{"s":"b","E":281.0,"I":0.105},{"s":"b","E":280.0,"I":0.098},{"s":"b","E":279.0,"I":0.088},{"s":"b","E":278.0,"I":0.078},
{"s":"p1","E":287.6,"I":0.186},{"s":"p1","E":287.27,"I":0.19},{"s":"p1","E":287.1,"I":0.215},{"s":"p1","E":286.99,"I":0.244},{"s":"p1","E":286.88,"I":0.275},{"s":"p1","E":286.76,"I":0.311},{"s":"p1","E":286.65,"I":0.33},{"s":"p1","E":286.57,"I":0.336},{"s":"p1","E":286.45,"I":0.332},{"s":"p1","E":286.34,"I":0.323},{"s":"p1","E":286.2,"I":0.302},{"s":"p1","E":286.05,"I":0.278},{"s":"p1","E":285.9,"I":0.25},{"s":"p1","E":285.77,"I":0.227},{"s":"p1","E":285.63,"I":0.205},{"s":"p1","E":285.49,"I":0.188},{"s":"p1","E":285.35,"I":0.177},{"s":"p1","E":285.21,"I":0.168},
{"s":"p2","E":287.3,"I":0.183},{"s":"p2","E":286.99,"I":0.186},{"s":"p2","E":286.71,"I":0.192},{"s":"p2","E":286.34,"I":0.213},{"s":"p2","E":286.05,"I":0.255},{"s":"p2","E":285.77,"I":0.334},{"s":"p2","E":285.6,"I":0.39},{"s":"p2","E":285.39,"I":0.446},{"s":"p2","E":285.2,"I":0.5},{"s":"p2","E":285.05,"I":0.528},{"s":"p2","E":284.93,"I":0.535},{"s":"p2","E":284.8,"I":0.53},{"s":"p2","E":284.68,"I":0.51},{"s":"p2","E":284.55,"I":0.468},{"s":"p2","E":284.4,"I":0.405},{"s":"p2","E":284.27,"I":0.334},{"s":"p2","E":284.13,"I":0.275},{"s":"p2","E":283.99,"I":0.222},{"s":"p2","E":283.85,"I":0.186},{"s":"p2","E":283.7,"I":0.16},{"s":"p2","E":283.5,"I":0.14},{"s":"p2","E":283.33,"I":0.13},
{"s":"p3","E":285.5,"I":0.165},{"s":"p3","E":285.21,"I":0.168},{"s":"p3","E":284.9,"I":0.171},{"s":"p3","E":284.64,"I":0.175},{"s":"p3","E":284.45,"I":0.182},{"s":"p3","E":284.27,"I":0.194},{"s":"p3","E":284.1,"I":0.21},{"s":"p3","E":283.89,"I":0.233},{"s":"p3","E":283.65,"I":0.285},{"s":"p3","E":283.42,"I":0.356},{"s":"p3","E":283.28,"I":0.41},{"s":"p3","E":283.14,"I":0.468},{"s":"p3","E":283.05,"I":0.53},{"s":"p3","E":282.95,"I":0.591},{"s":"p3","E":282.8,"I":0.67},{"s":"p3","E":282.67,"I":0.737},{"s":"p3","E":282.48,"I":0.849},{"s":"p3","E":282.38,"I":0.885},{"s":"p3","E":282.29,"I":0.899},{"s":"p3","E":282.2,"I":0.9},{"s":"p3","E":282.11,"I":0.882},{"s":"p3","E":282.0,"I":0.84},{"s":"p3","E":281.92,"I":0.782},{"s":"p3","E":281.85,"I":0.74},{"s":"p3","E":281.78,"I":0.703},{"s":"p3","E":281.7,"I":0.64},{"s":"p3","E":281.64,"I":0.558},{"s":"p3","E":281.55,"I":0.43},{"s":"p3","E":281.45,"I":0.3},{"s":"p3","E":281.35,"I":0.21},{"s":"p3","E":281.26,"I":0.155},{"s":"p3","E":281.15,"I":0.12},{"s":"p3","E":281.07,"I":0.104},{"s":"p3","E":280.9,"I":0.1}
]},
"layer":[
{"transform":[{"filter":"datum.s=='b'"}],"mark":{"type":"line","stroke":"#333","strokeWidth":2,"interpolate":"monotone"},
"encoding":{
"x":{"field":"E","type":"quantitative","scale":{"domain":[278,290],"reverse":true,"nice":false,"zero":false},"axis":{"orient":"bottom","values":[290,288,286,284,282,280,278],"format":"d","labelPadding":19,"title":"Binding energy [eV]","titlePadding":17}},
"y":{"field":"I","type":"quantitative","scale":{"domain":[0,1],"nice":false},"axis":{"orient":"left","values":[0,0.1,0.2,0.3,0.4,0.5,0.6,0.7,0.8,0.9,1],"labelExpr":"round(datum.value*10) % 2 == 0 ? datum.label : ''","format":".1f","labelPadding":16,"title":"Normalized Intensity","titlePadding":25}}}},
{"transform":[{"filter":"indexof(datum.s,'p')==0"}],"mark":{"type":"line","stroke":"#222","strokeWidth":1,"interpolate":"monotone"},
"encoding":{"x":{"field":"E","type":"quantitative","scale":{"domain":[278,290],"reverse":true,"nice":false,"zero":false},"axis":null},"y":{"field":"I","type":"quantitative","scale":{"domain":[0,1],"nice":false},"axis":null},"detail":{"field":"s"}}},
{"transform":[{"filter":"datum.s=='e'"}],"mark":{"type":"line","stroke":"#111","strokeWidth":3},
"encoding":{"x":{"field":"E","type":"quantitative","scale":{"domain":[278,290],"reverse":true,"nice":false,"zero":false},"axis":null},"y":{"field":"I","type":"quantitative","scale":{"domain":[0,1],"nice":false},"axis":null}}},
{"transform":[{"filter":"datum.s=='b'"}],"mark":{"type":"line","opacity":0},
"encoding":{
"x":{"field":"E","type":"quantitative","scale":{"domain":[278,290],"reverse":true,"nice":false,"zero":false},"axis":{"orient":"top","values":[290,288,286,284,282,280,278],"labels":false,"title":null,"minExtent":0}},
"y":{"field":"I","type":"quantitative","scale":{"domain":[0,1],"nice":false},"axis":{"orient":"right","values":[0,0.1,0.2,0.3,0.4,0.5,0.6,0.7,0.8,0.9,1],"labels":false,"title":null,"minExtent":0}}}},
{"data":{"values":[{"E":282.53,"I":0.451,"t":"C - Ti"},{"E":285.07,"I":0.311,"t":"C - C"},{"E":286.71,"I":0.25,"t":"C - O"}]},
"mark":{"type":"text","align":"center","baseline":"middle","fontSize":19},
"encoding":{"x":{"field":"E","type":"quantitative","scale":{"domain":[278,290],"reverse":true,"nice":false,"zero":false},"axis":null},"y":{"field":"I","type":"quantitative","scale":{"domain":[0,1],"nice":false},"axis":null},"text":{"field":"t"}}},
{"data":{"values":[{"E":279.48,"I":0.888,"t":"C(1s)"}]},
"mark":{"type":"text","align":"center","baseline":"middle","fontSize":19,"fontWeight":"bold","color":"#111"},
"encoding":{"x":{"field":"E","type":"quantitative","scale":{"domain":[278,290],"reverse":true,"nice":false,"zero":false},"axis":null},"y":{"field":"I","type":"quantitative","scale":{"domain":[0,1],"nice":false},"axis":null},"text":{"field":"t"}}},
{"data":{"values":[{"E":292.11,"I":0.954,"t":"c"}]},
"mark":{"type":"text","align":"left","baseline":"alphabetic","fontSize":23,"fontWeight":"bold","color":"#111"},
"encoding":{"x":{"field":"E","type":"quantitative","scale":{"domain":[278,290],"reverse":true,"nice":false,"zero":false},"axis":null},"y":{"field":"I","type":"quantitative","scale":{"domain":[0,1],"nice":false},"axis":null},"text":{"field":"t"}}}
],
"resolve":{"axis":{"x":"independent","y":"independent"}}
}
]
}
